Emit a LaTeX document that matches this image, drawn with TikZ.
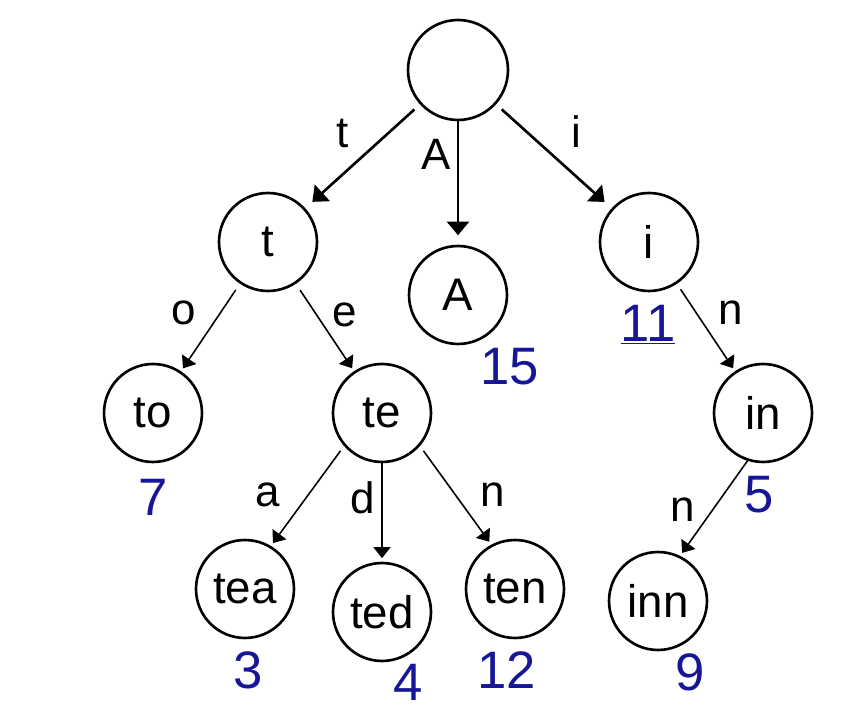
\documentclass[tikz,border=0pt]{standalone}
\usepackage{fontspec}
\setmainfont{Liberation Sans}
\usetikzlibrary{arrows.meta}
\definecolor{cB}{RGB}{22,22,150}

\begin{document}
\begin{tikzpicture}[x=0.02cm, y=-0.02cm,
   key/.style={circle, draw, line width=1.5pt, minimum size=1.96cm, inner sep=0pt, font=\fontsize{26}{31}\selectfont},
   lbl/.style={inner sep=0pt, font=\fontsize{25}{30}\selectfont},
   val/.style={inner sep=0pt, text=cB, font=\fontsize{30}{36}\selectfont},
   big/.style={line width=1.5pt, -{Triangle[length=0.27cm, width=0.44cm]}, shorten >=0.19cm},
   small/.style={line width=0.9pt, -{Triangle[length=0.22cm, width=0.34cm]}, shorten >=0.07cm}]
   \useasboundingbox (0,0) rectangle (856,712);
   % Nodes of the trie
   \node[key, minimum size=2cm] (root) at (458, 70) {};
   \node[key] (t) at (268, 242) {t};
   \node[key] (A) at (458, 295) {A};
   \node[key] (i) at (649, 242) {i};
   \node[key] (to) at (153, 413) {to};
   \node[key] (te) at (382, 413) {te};
   \node[key] (in) at (763, 413) {in};
   \node[key] (tea) at (245, 589) {tea};
   \node[key] (ted) at (382, 612) {ted};
   \node[key] (ten) at (515, 589) {ten};
   \node[key] (inn) at (658, 601) {inn};

   % Edges
   \draw[big, shorten <=0.15cm] (root) -- (t);
   \draw[big] (root) -- (A);
   \draw[big, shorten <=0.15cm] (root) -- (i);
   \draw[small, shorten <=0.15cm] (t) -- (to);
   \draw[small, shorten <=0.15cm] (t) -- (te);
   \draw[small, shorten <=0.13cm] (i) -- (in);
   \draw[small, shorten <=0.12cm] (te.221) -- (tea.59);
   \draw[small] (te) -- (ted);
   \draw[small, shorten <=0.12cm] (te.319) -- (ten.118);
   \draw[small] (in.252) -- (inn.64);

   % Edge labels
   \node[lbl] (lt) at (343, 133) {t};
   \node[lbl] (lA) at (436, 154) {A};
   \node[lbl] (li) at (576, 132) {i};
   \node[lbl] (lo) at (184, 313) {o};
   \node[lbl] (le) at (345, 315) {e};
   \node[lbl] (lin) at (731, 313) {n};
   \node[lbl] (la) at (268, 495) {a};
   \node[lbl] (ld) at (363, 498) {d};
   \node[lbl] (lten) at (493, 495) {n};
   \node[lbl] (linn) at (683, 510) {n};

   % Values
   \node[val] (v15) at (510, 367) {15};
   \node[val] (v11) at (648, 325) {\underline{11}};
   \node[val] (v7) at (153, 497) {7};
   \node[val] (v5) at (759, 495) {5};
   \node[val] (v3) at (248, 670) {3};
   \node[val] (v4) at (408, 682) {4};
   \node[val] (v12) at (507, 670) {12};
   \node[val] (v9) at (690, 672) {9};
\end{tikzpicture}
\end{document}
